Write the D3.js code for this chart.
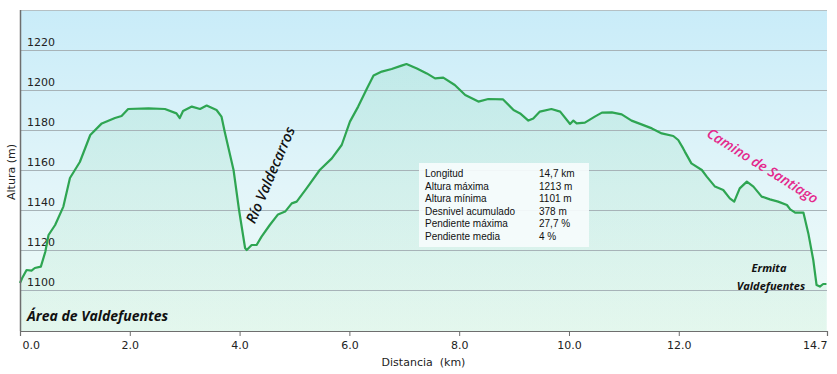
<!DOCTYPE html>
<html>
<head>
<meta charset="utf-8">
<script src="https://cdn.jsdelivr.net/npm/d3@7"></script>
<style>
  html, body { margin: 0; padding: 0; background: #ffffff; }
  svg { display: block; }
</style>
</head>
<body>
<svg id="chart" width="837" height="374"></svg>
<script>
// ---- Data ----
const distanceKm = [0.00,0.04,0.12,0.21,0.27,0.38,0.46,0.52,0.64,0.79,0.91,1.09,1.28,1.49,1.73,1.85,1.97,2.34,2.64,2.85,2.91,2.97,3.13,3.28,3.40,3.58,3.67,3.73,3.89,3.99,4.10,4.13,4.22,4.31,4.40,4.55,4.70,4.83,4.95,5.04,5.22,5.46,5.68,5.86,6.01,6.16,6.32,6.44,6.59,6.77,6.95,7.04,7.23,7.41,7.56,7.71,7.92,8.11,8.35,8.53,8.80,8.99,9.11,9.26,9.35,9.47,9.68,9.84,10.02,10.08,10.14,10.29,10.47,10.60,10.78,10.96,11.14,11.32,11.51,11.69,11.90,11.99,12.08,12.11,12.23,12.42,12.51,12.66,12.81,12.93,13.01,13.11,13.24,13.36,13.51,13.66,13.81,13.97,14.03,14.12,14.27,14.36,14.45,14.51,14.57,14.63,14.69];
const elevationM = [1103.5,1106,1110,1109.7,1111,1111.7,1119,1127.5,1132.5,1141.7,1156,1164,1177.5,1183.3,1186,1187,1190.5,1190.8,1190.5,1188.3,1186,1189.5,1191.7,1190.5,1192.2,1190,1186.7,1179,1160,1140,1121,1120,1122.5,1122.5,1126.7,1132.5,1137.8,1139.2,1143.3,1144.2,1150.8,1160,1165.8,1172.5,1184.2,1191.7,1200.8,1207.2,1209.2,1210.5,1212.2,1213,1210.8,1208.3,1205.8,1206.2,1202.5,1197.5,1194.2,1195.5,1195.3,1190,1188.3,1184.7,1185.8,1189.2,1190.5,1189.2,1183,1184.7,1183.3,1183.7,1186.7,1188.7,1188.8,1187.8,1184.7,1182.8,1180.8,1178.3,1177,1175,1170.8,1169.2,1163.3,1160,1156.7,1151.7,1150,1145.8,1144.2,1150.8,1154.2,1151.7,1146.7,1145.3,1144.2,1142.5,1140.3,1138.7,1138.7,1128.3,1115,1102.5,1101.7,1103,1103];
const xTickValues = [0, 2, 4, 6, 8, 10, 12, 14.7];
const yTickValues = [1100, 1120, 1140, 1160, 1180, 1200, 1220];
const infoLabels = ["Longitud", "Altura máxima", "Altura mínima", "Desnivel acumulado", "Pendiente máxima", "Pendiente media"];
const infoValues = ["14,7 km", "1213 m", "1101 m", "378 m", "27,7 %", "4 %"];
const xTitle = "Distancia  (km)";
const yTitle = "Altura (m)";

// ---- Layout ----
const svg = d3.select("#chart");
const L = 20, R = 827, T = 10, B = 331;
const x = d3.scaleLinear().domain([0, 14.7]).range([L, R]);
const y = d3.scaleLinear().domain([1079.5, 1240]).range([B, T]);
const data = distanceKm.map((d, i) => ({ km: d, m: elevationM[i] }));

const defs = svg.append("defs");
const bg = defs.append("linearGradient").attr("id", "bg").attr("x1", 0).attr("y1", 0).attr("x2", 0).attr("y2", 1);
bg.append("stop").attr("offset", "0%").attr("stop-color", "#c9ecf9");
bg.append("stop").attr("offset", "55%").attr("stop-color", "#e2f5f9");
bg.append("stop").attr("offset", "100%").attr("stop-color", "#f0fbf7");
const ag = defs.append("linearGradient").attr("id", "ag").attr("x1", 0).attr("y1", 0).attr("x2", 0).attr("y2", 1);
ag.append("stop").attr("offset", "0%").attr("stop-color", "#3cbf6a").attr("stop-opacity", 0.11);
ag.append("stop").attr("offset", "100%").attr("stop-color", "#3cbf6a").attr("stop-opacity", 0.07);

// plot background
svg.append("rect").attr("x", L).attr("y", T).attr("width", R - L).attr("height", B - T).attr("fill", "url(#bg)");

// area fill
svg.append("path").datum(data)
  .attr("fill", "url(#ag)")
  .attr("d", d3.area().x(d => x(d.km)).y0(B).y1(d => y(d.m)));

// gridlines
svg.append("g").selectAll("line").data(yTickValues).join("line")
  .attr("x1", L).attr("x2", R)
  .attr("y1", d => Math.round(y(d)) + 0.5).attr("y2", d => Math.round(y(d)) + 0.5)
  .attr("stroke", "#a7b3b8").attr("stroke-width", 1);

// top border
svg.append("line").attr("x1", L).attr("x2", R).attr("y1", T + 0.5).attr("y2", T + 0.5)
  .attr("stroke", "#b5c0c4").attr("stroke-width", 1);

// y tick labels (inside plot, above gridline)
svg.append("g").selectAll("text").data(yTickValues).join("text")
  .attr("x", 27).attr("y", d => y(d) - 4)
  .attr("font-family", "DejaVu Sans, Verdana, sans-serif").attr("font-size", 11)
  .attr("fill", "#222").text(d => d);

// profile line
svg.append("path").datum(data)
  .attr("fill", "none").attr("stroke", "#2ea552").attr("stroke-width", 2.2)
  .attr("stroke-linejoin", "round")
  .attr("d", d3.line().x(d => x(d.km)).y(d => y(d.m)));

// axes
const xAxis = d3.axisBottom(x).tickValues(xTickValues).tickSize(5).tickFormat(d3.format(".1f"));
const gx = svg.append("g").attr("transform", `translate(0,${B})`).call(xAxis);
gx.select(".domain").attr("stroke", "#6e6e6e").attr("stroke-width", 1.2);
gx.selectAll(".tick line").attr("stroke", "#6e6e6e");
gx.selectAll(".tick text").attr("font-family", "DejaVu Sans, Verdana, sans-serif").attr("font-size", 11)
  .attr("fill", "#222").attr("dy", "0.9em");
gx.selectAll(".tick text").filter(d => d === 0).attr("text-anchor", "start").attr("x", 2);
gx.selectAll(".tick text").filter(d => d === 14.7).attr("text-anchor", "end").attr("x", 0);

svg.append("line").attr("x1", L + 0.5).attr("x2", L + 0.5).attr("y1", T).attr("y2", B)
  .attr("stroke", "#6e6e6e").attr("stroke-width", 1.5);

// axis titles
svg.append("text").attr("x", (L + R) / 2).attr("y", 366).attr("text-anchor", "middle")
  .attr("font-family", "DejaVu Sans, Verdana, sans-serif").attr("font-size", 11).attr("fill", "#222")
  .attr("xml:space", "preserve").style("white-space", "pre").text(xTitle);
svg.append("text").attr("transform", "translate(15,172) rotate(-90)").attr("text-anchor", "middle")
  .attr("font-family", "DejaVu Sans, Verdana, sans-serif").attr("font-size", 11).attr("fill", "#222")
  .text(yTitle);

// info box
const bx = 419, by = 163;
svg.append("rect").attr("x", bx).attr("y", by).attr("width", 170).attr("height", 84)
  .attr("fill", "#f6fcfc").attr("fill-opacity", 0.92);
const info = svg.append("g").attr("font-family", "Liberation Sans, Arial, sans-serif").attr("font-size", 10).attr("fill", "#111");
info.selectAll("text.l").data(infoLabels).join("text").attr("class", "l")
  .attr("x", 425).attr("y", (d, i) => 177 + i * 12.6).text(d => d);
info.selectAll("text.v").data(infoValues).join("text").attr("class", "v")
  .attr("x", 539).attr("y", (d, i) => 177 + i * 12.6).text(d => d);

// annotations
const ann = svg.append("g").attr("font-family", "Open Sans, Liberation Sans, sans-serif");
ann.append("text").attr("x", 27).attr("y", 321)
  .attr("font-size", 14).attr("font-weight", "bold").attr("font-style", "italic").attr("fill", "#111")
  .text("Área de Valdefuentes");
ann.append("text").attr("transform", "translate(275,177) rotate(-67)").attr("text-anchor", "middle")
  .attr("font-size", 14.5).attr("font-weight", 600).attr("font-style", "italic").attr("fill", "#111")
  .text("Río Valdecarros");
ann.append("text").attr("transform", "translate(760,170) rotate(32)").attr("text-anchor", "middle")
  .attr("font-size", 14).attr("font-weight", 600).attr("font-style", "italic").attr("fill", "#e4288c")
  .text("Camino de Santiago");
ann.append("text").attr("x", 769).attr("y", 272).attr("text-anchor", "middle")
  .attr("font-size", 11).attr("font-weight", "bold").attr("font-style", "italic").attr("fill", "#111")
  .text("Ermita");
ann.append("text").attr("x", 771).attr("y", 290).attr("text-anchor", "middle")
  .attr("font-size", 11).attr("font-weight", "bold").attr("font-style", "italic").attr("fill", "#111")
  .text("Valdefuentes");
</script>
</body>
</html>
